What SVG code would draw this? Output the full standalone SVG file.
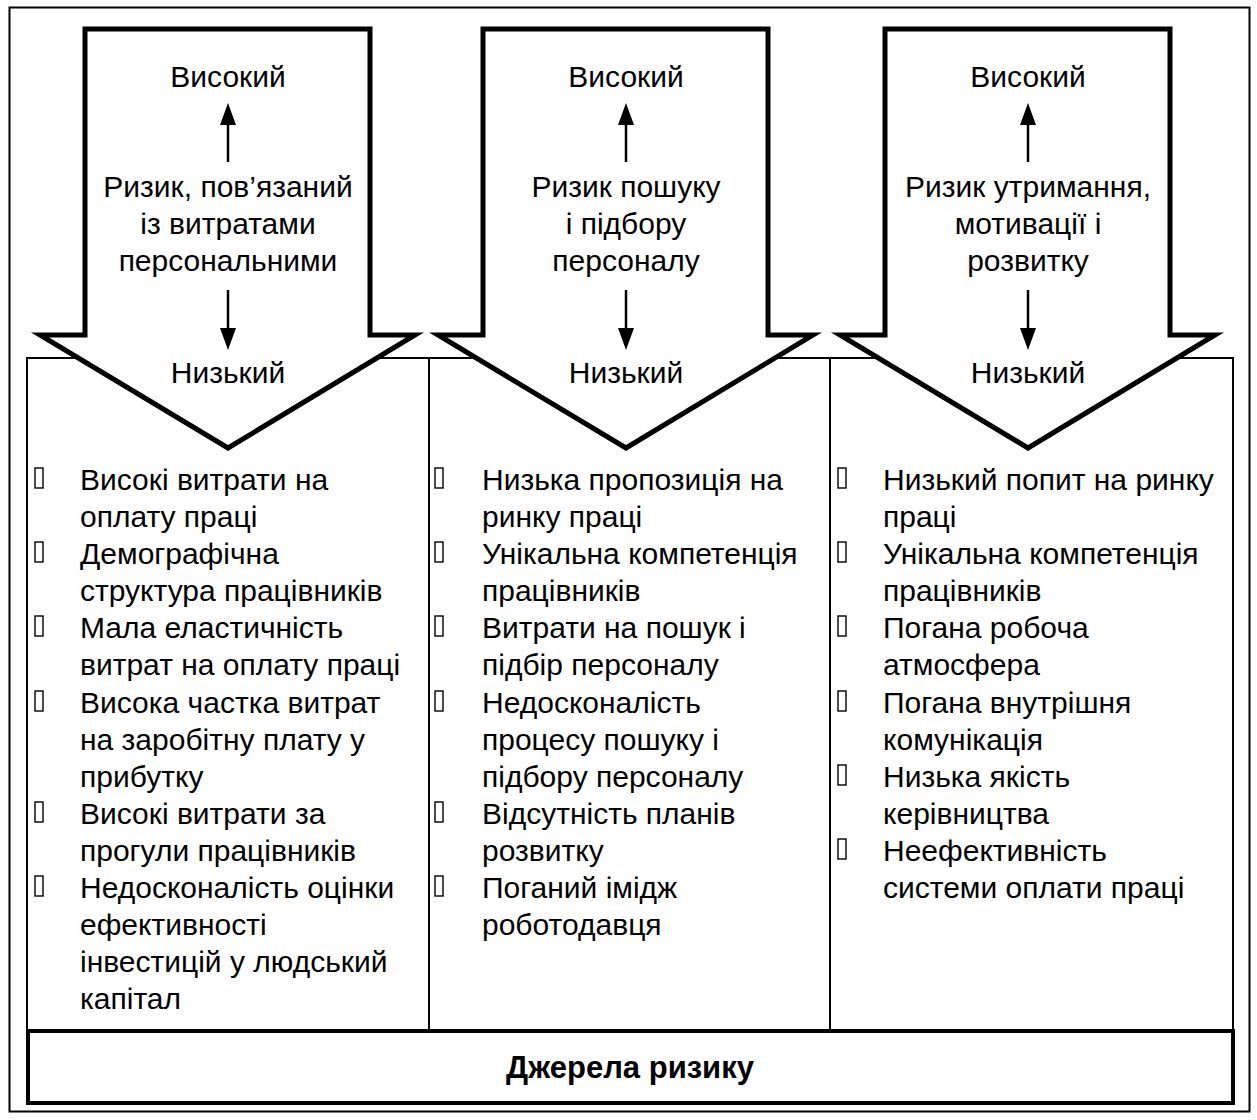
<svg xmlns="http://www.w3.org/2000/svg" width="1257" height="1120" viewBox="0 0 1257 1120">
  <style>
    .frame { fill: #fff; stroke: #000; stroke-width: 2; }
    .col { fill: none; stroke: #000; stroke-width: 2; }
    .big { fill: #fff; stroke: #000; stroke-width: 5; stroke-linejoin: miter; }
    .t { font-family: "Liberation Sans", Arial, sans-serif; font-size: 30px; fill: #000; }
    .c { text-anchor: middle; }
    .b { font-weight: bold; font-size: 31px; }
    .blt { fill: none; stroke: #000; stroke-width: 1.4; }
    .ln { stroke: #000; stroke-width: 2.5; }
  </style>
  <defs>
    <g id="bullet"><rect class="blt" x="0" y="0" width="8" height="20"/></g>
  </defs>

  <!-- outer frame -->
  <rect class="frame" x="9.5" y="7.5" width="1240" height="1104"/>

  <!-- three source columns -->
  <g id="columns">
    <rect class="col" x="27" y="358" width="1206" height="672"/>
    <line class="col" x1="429" y1="358" x2="429" y2="1030"/>
    <line class="col" x1="830" y1="358" x2="830" y2="1030"/>
  </g>

  <!-- big block arrows -->
  <g id="arrow1">
    <polygon class="big" points="85,29 370,29 370,335 415,335 228,448 40,335 85,335"/>
  </g>
  <g id="arrow2">
    <polygon class="big" points="483,29 768,29 768,335 813,335 626,448 438,335 483,335"/>
  </g>
  <g id="arrow3">
    <polygon class="big" points="885,29 1170,29 1170,335 1215,335 1028,448 840,335 885,335"/>
  </g>

  <!-- high / low scale arrows inside each block -->
  <g id="connectors">
    <line class="ln" x1="228" y1="162" x2="228" y2="120"/>
    <polygon points="228,103 220,125 236,125"/>
    <line class="ln" x1="228" y1="290" x2="228" y2="332"/>
    <polygon points="228,350 220,328 236,328"/>

    <line class="ln" x1="626" y1="162" x2="626" y2="120"/>
    <polygon points="626,103 618,125 634,125"/>
    <line class="ln" x1="626" y1="290" x2="626" y2="332"/>
    <polygon points="626,350 618,328 634,328"/>

    <line class="ln" x1="1028" y1="162" x2="1028" y2="120"/>
    <polygon points="1028,103 1020,125 1036,125"/>
    <line class="ln" x1="1028" y1="290" x2="1028" y2="332"/>
    <polygon points="1028,350 1020,328 1036,328"/>
  </g>

  <!-- block arrow labels -->
  <g id="label1" class="t c">
    <text x="228" y="87">Високий</text>
    <text x="228" y="197">Ризик, пов’язаний</text>
    <text x="228" y="234">із витратами</text>
    <text x="228" y="271">персональними</text>
    <text x="228" y="383">Низький</text>
  </g>
  <g id="label2" class="t c">
    <text x="626" y="87">Високий</text>
    <text x="626" y="197">Ризик пошуку</text>
    <text x="626" y="234">і підбору</text>
    <text x="626" y="271">персоналу</text>
    <text x="626" y="383">Низький</text>
  </g>
  <g id="label3" class="t c">
    <text x="1028" y="87">Високий</text>
    <text x="1028" y="197">Ризик утримання,</text>
    <text x="1028" y="234">мотивації і</text>
    <text x="1028" y="271">розвитку</text>
    <text x="1028" y="383">Низький</text>
  </g>

  <!-- column 1 list -->
  <g id="list1" class="t">
    <use href="#bullet" x="35" y="468"/>
    <use href="#bullet" x="35" y="542"/>
    <use href="#bullet" x="35" y="616"/>
    <use href="#bullet" x="35" y="691"/>
    <use href="#bullet" x="35" y="802"/>
    <use href="#bullet" x="35" y="876"/>
    <text x="80" y="490">Високі витрати на</text>
    <text x="80" y="527">оплату праці</text>
    <text x="80" y="564">Демографічна</text>
    <text x="80" y="601">структура працівників</text>
    <text x="80" y="638">Мала еластичність</text>
    <text x="80" y="675">витрат на оплату праці</text>
    <text x="80" y="713">Висока частка витрат</text>
    <text x="80" y="750">на заробітну плату у</text>
    <text x="80" y="787">прибутку</text>
    <text x="80" y="824">Високі витрати за</text>
    <text x="80" y="861">прогули працівників</text>
    <text x="80" y="898">Недосконалість оцінки</text>
    <text x="80" y="935">ефективності</text>
    <text x="80" y="972">інвестицій у людський</text>
    <text x="80" y="1009">капітал</text>
  </g>

  <!-- column 2 list -->
  <g id="list2" class="t">
    <use href="#bullet" x="435" y="468"/>
    <use href="#bullet" x="435" y="542"/>
    <use href="#bullet" x="435" y="616"/>
    <use href="#bullet" x="435" y="691"/>
    <use href="#bullet" x="435" y="802"/>
    <use href="#bullet" x="435" y="876"/>
    <text x="482" y="490">Низька пропозиція на</text>
    <text x="482" y="527">ринку праці</text>
    <text x="482" y="564">Унікальна компетенція</text>
    <text x="482" y="601">працівників</text>
    <text x="482" y="638">Витрати на пошук і</text>
    <text x="482" y="675">підбір персоналу</text>
    <text x="482" y="713">Недосконалість</text>
    <text x="482" y="750">процесу пошуку і</text>
    <text x="482" y="787">підбору персоналу</text>
    <text x="482" y="824">Відсутність планів</text>
    <text x="482" y="861">розвитку</text>
    <text x="482" y="898">Поганий імідж</text>
    <text x="482" y="935">роботодавця</text>
  </g>

  <!-- column 3 list -->
  <g id="list3" class="t">
    <use href="#bullet" x="838" y="468"/>
    <use href="#bullet" x="838" y="542"/>
    <use href="#bullet" x="838" y="616"/>
    <use href="#bullet" x="838" y="691"/>
    <use href="#bullet" x="838" y="765"/>
    <use href="#bullet" x="838" y="839"/>
    <text x="883" y="490">Низький попит на ринку</text>
    <text x="883" y="527">праці</text>
    <text x="883" y="564">Унікальна компетенція</text>
    <text x="883" y="601">працівників</text>
    <text x="883" y="638">Погана робоча</text>
    <text x="883" y="675">атмосфера</text>
    <text x="883" y="713">Погана внутрішня</text>
    <text x="883" y="750">комунікація</text>
    <text x="883" y="787">Низька якість</text>
    <text x="883" y="824">керівництва</text>
    <text x="883" y="861">Неефективність</text>
    <text x="883" y="898">системи оплати праці</text>
  </g>

  <!-- risk sources footer -->
  <g id="sources">
    <rect x="28" y="1031" width="1205" height="72" fill="#fff" stroke="#000" stroke-width="4"/>
    <text class="t c b" x="630" y="1078">Джерела ризику</text>
  </g>
</svg>
